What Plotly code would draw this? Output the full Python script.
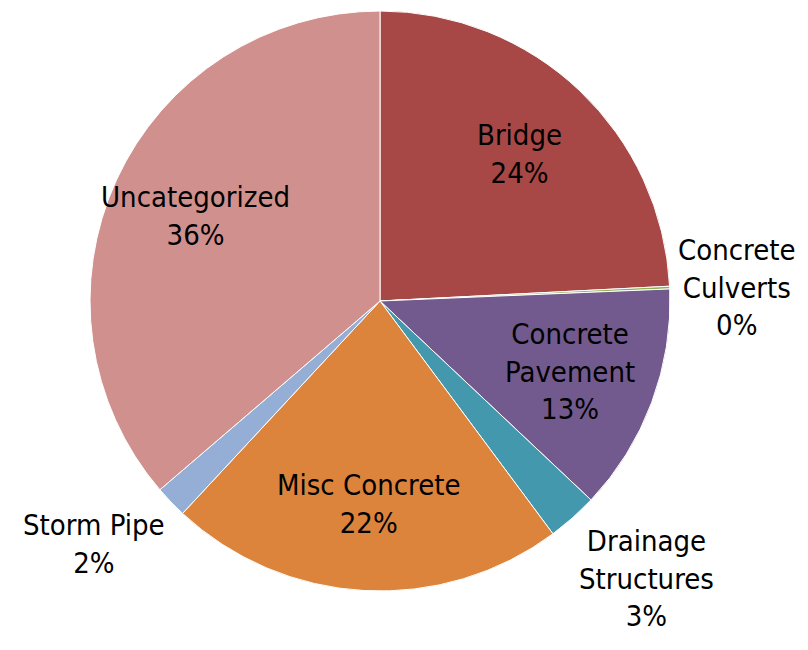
import math
import plotly.graph_objects as go

categories = ["Bridge", "Concrete Culverts", "Concrete Pavement", "Drainage Structures",
              "Misc Concrete", "Storm Pipe", "Uncategorized"]
display_labels = ["Bridge", "Concrete<br>Culverts", "Concrete<br>Pavement", "Drainage<br>Structures",
                  "Misc Concrete", "Storm Pipe", "Uncategorized"]
values = [24.2, 0.15, 12.7, 2.8, 22.1, 1.8, 36.3]
colors = ["#A84846", "#8DB255", "#725A8E", "#4398AE", "#DC843C", "#94AED5", "#D0918E"]
label_outside = [False, True, False, True, False, True, False]

FONT = "Liberation Sans Narrow, Arial Narrow, DejaVu Sans Condensed, sans-serif"
FSIZE = 29

# page body has an 8px margin; keep the whole figure inside the 808x650 window
OFF = 8
W, H = 808 - 2 * OFF, 650 - 2 * OFF
# pie geometry (pixels in the figure)
CX, CY, R = 380 - OFF, 301 - OFF, 290

fig = go.Figure(go.Pie(
    labels=categories,
    values=values,
    sort=False,
    direction="clockwise",
    rotation=0,
    marker=dict(colors=colors, line=dict(color="white", width=1)),
    textinfo="none",
    domain=dict(x=[(CX - R) / W, (CX + R) / W],
                y=[1 - (CY + R) / H, 1 - (CY - R) / H]),
    showlegend=False,
    hoverinfo="label+percent",
))

# data labels at each slice's mid-angle: inside ones at 0.7 R, outside ones just beyond the rim
total = sum(values)
cum = 0.0
for lab, v, out in zip(display_labels, values, label_outside):
    mid = (cum + v / 2) / total * 2 * math.pi
    cum += v
    sx, sy = math.sin(mid), -math.cos(mid)  # screen direction (y down)
    if out:
        d = R + 6
        xanchor = "left" if sx > 0.1 else ("right" if sx < -0.1 else "center")
        yanchor = "top" if sy > 0.3 else ("bottom" if sy < -0.3 else "middle")
    else:
        d = 0.7 * R
        xanchor, yanchor = "center", "middle"
    px, py = CX + d * sx, CY + d * sy
    fig.add_annotation(
        x=px / W, y=1 - py / H, xref="paper", yref="paper",
        text=f"{lab}<br>{round(100 * v / total)}%",
        showarrow=False, xanchor=xanchor, yanchor=yanchor, align="center",
        font=dict(family=FONT, size=FSIZE, color="black"),
    )

fig.update_layout(
    width=W, height=H,
    margin=dict(l=0, r=0, t=0, b=0, autoexpand=False),
    paper_bgcolor="white",
    plot_bgcolor="white",
)
fig.write_html("out.html")
